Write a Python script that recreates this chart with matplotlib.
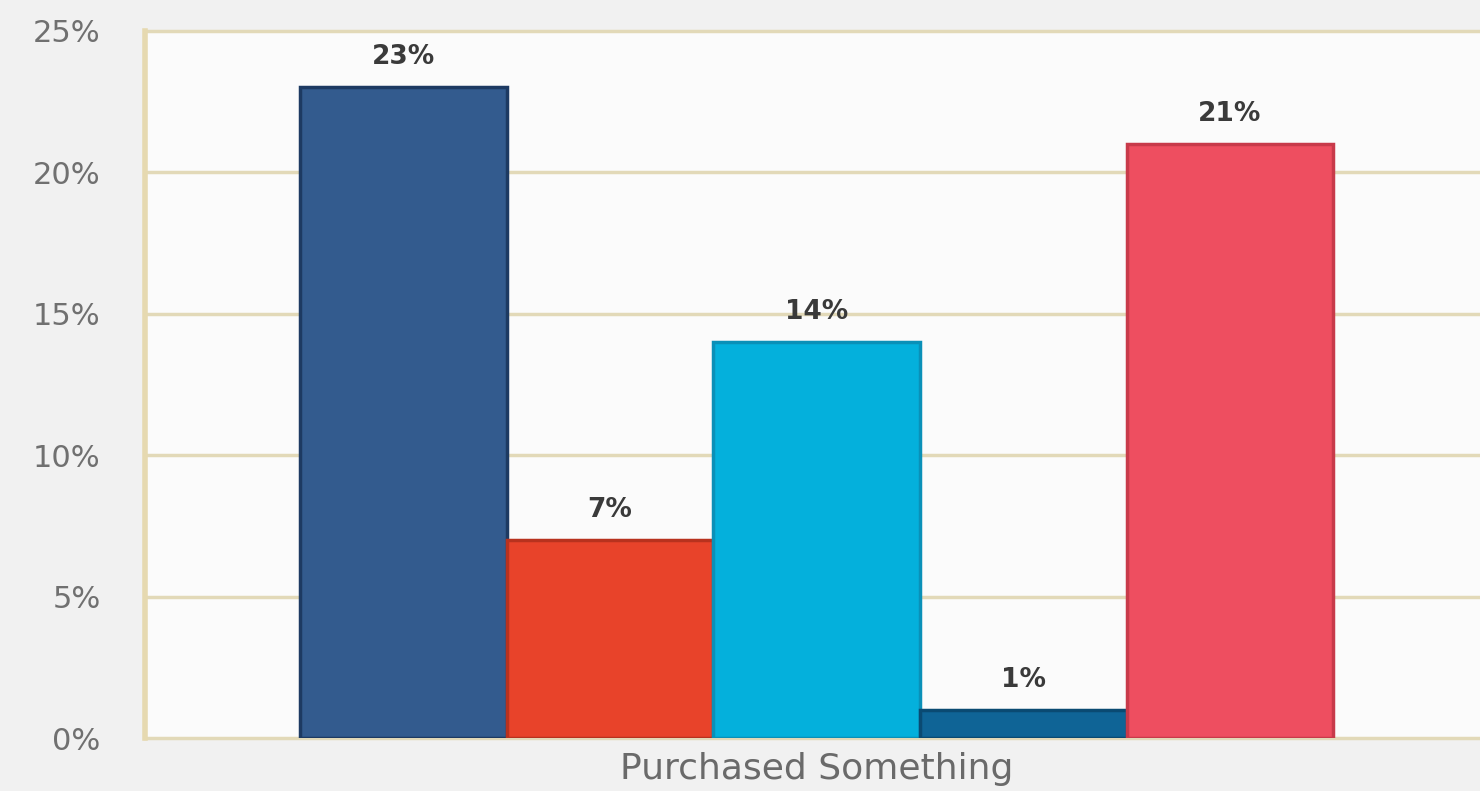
import numpy as np
import matplotlib.pyplot as plt

plt.rcParams['font.family'] = ['DejaVu Sans']

# share of respondents who purchased something
group_label = "Purchased Something"
values = [23, 7, 14, 1, 21]
bar_colors = ["#335b8e", "#e8432a", "#04b0dc", "#0f6496", "#ee4e60"]
edge_colors = ["#1d3a62", "#b8321e", "#0a90b8", "#0a4a72", "#c83a4a"]
yticks = [0, 5, 10, 15, 20, 25]

fig = plt.figure(figsize=(14.8, 7.91), dpi=100, facecolor="#f1f1f1")
ax = fig.add_axes([0.098, 0.067, 0.902, 0.894])
ax.set_facecolor("#fbfbfb")

x = np.arange(len(values))
bars = ax.bar(x, values, width=1.0, color=bar_colors, edgecolor=edge_colors,
              linewidth=2.5, zorder=3)

for b, v in zip(bars, values):
    ax.text(b.get_x() + b.get_width() / 2, v + 0.6, f"{v}%", ha="center",
            va="bottom", fontsize=19, fontweight="bold", color="#3a3a3a")

ax.set_xlim(-1.25, 5.21)
ax.set_ylim(0, 25)
ax.set_yticks(yticks)
ax.set_yticklabels([f"{t}%" for t in yticks], fontsize=22, color="#707070")
ax.set_xticks([2])
ax.set_xticklabels([group_label], fontsize=26, color="#6a6a6a")
ax.tick_params(axis="both", length=0)
ax.tick_params(axis="x", pad=10)
ax.tick_params(axis="y", pad=32)

ax.grid(axis="y", color="#e2d9b8", linewidth=2.5, zorder=1)
for gl in ax.get_ygridlines():
    gl.set_clip_on(False)
for s in ["top", "right", "bottom"]:
    ax.spines[s].set_visible(False)
ax.spines["left"].set_color("#e6d9b0")
ax.spines["left"].set_linewidth(4)

fig.savefig("out.png", dpi=100, facecolor=fig.get_facecolor())
